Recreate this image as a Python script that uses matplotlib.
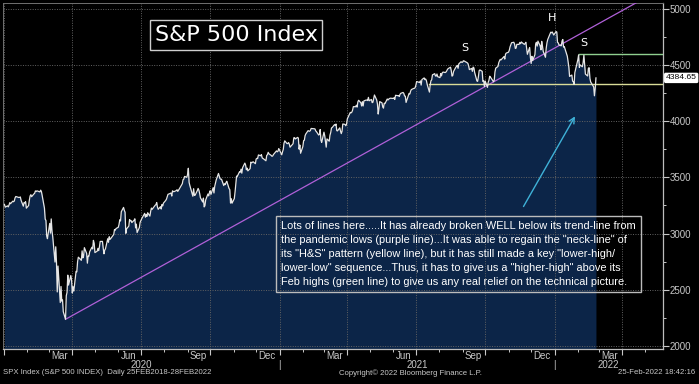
import matplotlib
matplotlib.use("Agg")
import matplotlib.pyplot as plt
import matplotlib.dates as mdates
from matplotlib import font_manager
import pandas as pd
import numpy as np

#==============================================================
#                 Data : SPX daily closes
#==============================================================
spx_2020 = [
    3257.85, 3234.85, 3246.28, 3237.18, 3253.05, 3274.70, 3265.35, 3288.13, 3283.15, 3289.29, 3316.81, 3329.62,
    3320.79, 3321.75, 3325.54, 3295.47, 3243.63, 3276.24, 3273.40, 3283.66, 3225.52,                 # Jan
    3248.92, 3297.59, 3334.69, 3345.78, 3327.71, 3352.09, 3357.75, 3379.45, 3373.94, 3380.16,
    3370.29, 3386.15, 3373.23, 3337.75, 3225.89, 3128.21, 3116.39, 2978.76, 2954.22,                 # Feb
    3090.23, 3003.37, 3130.12, 3023.94, 2972.37, 2746.56, 2882.23, 2741.38, 2480.64, 2711.02, 2386.13,
    2529.19, 2398.10, 2409.39, 2304.92, 2237.40, 2447.33, 2475.56, 2630.07, 2541.47, 2626.65, 2584.59,  # Mar
    2470.50, 2526.90, 2488.65, 2663.68, 2659.41, 2749.98, 2789.82, 2761.63, 2846.06, 2783.36, 2799.55,
    2874.56, 2823.16, 2736.56, 2799.31, 2797.80, 2836.74, 2878.48, 2863.39, 2939.51, 2912.43,         # Apr
    2830.71, 2842.74, 2868.44, 2848.42, 2881.19, 2929.80, 2930.32, 2870.12, 2820.00, 2852.50,
    2863.70, 2953.91, 2922.94, 2971.61, 2948.51, 2955.45, 2991.77, 3036.13, 3029.73, 3044.31,         # May
    3055.73, 3080.82, 3122.87, 3112.35, 3193.93, 3232.39, 3207.18, 3190.14, 3002.10, 3041.31, 3066.59,
    3124.74, 3113.49, 3115.34, 3097.74, 3117.86, 3131.29, 3050.33, 3083.76, 3009.05, 3053.24, 3100.29,  # Jun
    3115.86, 3130.01, 3179.72, 3145.32, 3169.94, 3152.05, 3185.04, 3155.22, 3197.52, 3226.56, 3215.57,
    3224.73, 3251.84, 3257.30, 3276.02, 3235.66, 3215.63, 3239.41, 3218.44, 3258.44, 3246.22, 3271.12,  # Jul
    3294.61, 3306.51, 3327.77, 3349.16, 3351.28, 3360.47, 3333.69, 3380.35, 3373.43, 3372.85, 3381.99,
    3389.78, 3374.85, 3385.51, 3397.16, 3431.28, 3443.62, 3478.73, 3484.55, 3508.01, 3500.31,         # Aug
    3526.65, 3580.84, 3455.06, 3426.96, 3331.84, 3398.96, 3339.19, 3340.97, 3383.54, 3401.20, 3385.49,
    3357.01, 3319.47, 3281.06, 3315.57, 3236.92, 3246.59, 3298.46, 3351.60, 3335.47, 3363.00,         # Sep
    3380.80, 3348.42, 3408.60, 3360.97, 3419.44, 3446.83, 3477.13, 3534.22, 3511.93, 3488.67, 3483.34,
    3483.81, 3426.92, 3443.12, 3435.56, 3453.49, 3465.39, 3400.97, 3390.68, 3271.03, 3310.11, 3269.96,  # Oct
    3310.24, 3369.16, 3443.44, 3510.45, 3509.44, 3550.50, 3545.53, 3572.66, 3537.01, 3585.15,
    3626.91, 3609.53, 3567.79, 3581.87, 3557.54, 3577.59, 3635.41, 3629.65, 3638.35, 3621.63,         # Nov
    3662.45, 3669.01, 3666.72, 3699.12, 3691.96, 3702.25, 3672.82, 3668.10, 3663.46, 3647.49, 3694.62,
    3701.17, 3722.48, 3709.41, 3694.92, 3687.26, 3690.01, 3703.06, 3735.36, 3727.04, 3732.04, 3756.07,  # Dec
]
spx_2021 = [
    3700.65, 3726.86, 3748.14, 3803.79, 3824.68, 3799.61, 3801.19, 3809.84, 3795.54, 3768.25,
    3798.91, 3851.85, 3853.07, 3841.47, 3855.36, 3849.62, 3750.77, 3787.38, 3714.24,                 # Jan
    3773.86, 3826.31, 3830.17, 3871.74, 3886.83, 3915.59, 3911.23, 3909.88, 3916.38, 3934.83,
    3932.59, 3931.33, 3913.97, 3906.71, 3876.50, 3881.37, 3925.43, 3829.34, 3811.15,                 # Feb
    3901.82, 3870.29, 3819.72, 3768.47, 3841.94, 3821.35, 3875.44, 3898.81, 3939.34, 3943.34, 3968.94, 3962.71,
    3974.12, 3915.46, 3913.10, 3940.59, 3910.52, 3889.14, 3909.52, 3974.54, 3971.09, 3958.55, 3972.89,  # Mar
    4019.87, 4077.91, 4073.94, 4079.95, 4097.17, 4128.80, 4127.99, 4141.59, 4124.66, 4170.42, 4185.47,
    4163.26, 4134.94, 4173.42, 4134.98, 4180.17, 4187.62, 4186.72, 4183.18, 4211.47, 4181.17,         # Apr
    4192.66, 4164.66, 4167.59, 4201.62, 4232.60, 4188.43, 4152.10, 4063.04, 4112.50, 4173.85,
    4163.29, 4127.83, 4115.68, 4159.12, 4155.86, 4197.05, 4188.13, 4195.99, 4200.88, 4204.11,         # May
    4202.04, 4208.12, 4192.85, 4229.89, 4226.52, 4227.26, 4219.55, 4239.18, 4247.44, 4255.15, 4246.59,
    4223.70, 4221.86, 4166.45, 4224.79, 4246.44, 4241.84, 4266.49, 4280.70, 4290.61, 4291.80, 4297.50,  # Jun
    4319.94, 4352.34, 4343.54, 4358.13, 4320.82, 4369.55, 4384.63, 4369.21, 4374.30, 4360.03, 4327.16,
    4258.49, 4323.06, 4358.69, 4367.48, 4411.79, 4422.30, 4401.46, 4400.64, 4419.15, 4395.26,         # Jul
    4387.16, 4423.15, 4402.66, 4429.10, 4436.52, 4432.35, 4436.75, 4447.70, 4460.83, 4468.00, 4479.71,
    4448.08, 4400.27, 4405.80, 4441.67, 4479.53, 4486.23, 4496.19, 4470.00, 4509.37, 4528.79, 4522.68,  # Aug
    4524.09, 4536.95, 4535.43, 4520.03, 4514.07, 4493.28, 4458.58, 4468.73, 4443.05, 4480.70, 4473.75,
    4432.99, 4357.73, 4354.19, 4395.64, 4448.98, 4455.48, 4443.11, 4352.63, 4359.46, 4307.54,         # Sep
    4357.04, 4300.46, 4345.72, 4363.55, 4399.76, 4391.34, 4361.19, 4350.65, 4363.80, 4438.26, 4471.37,
    4486.46, 4519.63, 4536.19, 4549.78, 4544.90, 4566.48, 4574.79, 4551.68, 4596.42, 4605.38,         # Oct
    4613.67, 4630.65, 4660.57, 4680.06, 4697.53, 4701.70, 4685.25, 4646.71, 4649.27, 4682.85, 4682.80,
    4700.90, 4688.67, 4704.54, 4697.96, 4682.94, 4690.70, 4701.46, 4594.62, 4655.27, 4567.00,         # Nov
    4513.04, 4577.10, 4538.43, 4591.67, 4686.75, 4701.21, 4667.45, 4712.02, 4668.97, 4634.09, 4709.85,
    4668.67, 4620.64, 4568.02, 4649.23, 4696.56, 4725.79, 4791.19, 4786.35, 4793.06, 4778.73, 4766.18,  # Dec
]
spx_2022 = [
    4796.56, 4793.54, 4700.58, 4696.05, 4677.03, 4670.29, 4713.07, 4726.35, 4659.03, 4662.85,
    4577.11, 4532.76, 4482.73, 4397.94, 4410.13, 4356.45, 4349.93, 4326.51, 4431.85, 4515.55,         # Jan
    4546.54, 4589.38, 4477.44, 4500.53, 4483.87, 4521.54, 4587.18, 4504.08, 4418.64,
    4401.67, 4471.07, 4475.01, 4380.26, 4348.87, 4304.76, 4225.50, 4288.70, 4384.65,                 # Feb
]
nyse_holidays = ["2020-01-01", "2020-01-20", "2020-02-17", "2020-04-10", "2020-05-25", "2020-07-03",
                 "2020-09-07", "2020-11-26", "2020-12-25", "2021-01-01", "2021-01-18", "2021-02-15",
                 "2021-04-02", "2021-05-31", "2021-07-05", "2021-09-06", "2021-11-25", "2021-12-24",
                 "2022-01-17", "2022-02-21"]

# drawn lines
trend_dates = ["2020-03-23", "2022-05-25"]      # purple : pandemic-low trend line
trend_vals = [2237.4, 5185.0]
neck_start, neck_level = "2021-07-19", 4330.0   # yellow : H&S neck-line
feb_start, feb_level = "2022-02-02", 4595.0     # green  : Feb highs
last_price = 4384.65

yticks = [2000, 2500, 3000, 3500, 4000, 4500, 5000]
month_labels = ["Mar", "Jun", "Sep", "Dec"]

#==============================================================
#                 Build series
#==============================================================
days = pd.bdate_range("2020-01-01", "2022-02-25")
days = days[~days.isin(pd.to_datetime(nyse_holidays))]
vals = spx_2020 + spx_2021 + spx_2022
n = min(len(days), len(vals))
days, vals = days[:n], np.array(vals[:n])

# narrow font for the footer if there is one
names = {f.name for f in font_manager.fontManager.ttflist}
if "Liberation Sans Narrow" in names:
    foot_font, foot_size = "Liberation Sans Narrow", 6.6
else:
    foot_font, foot_size = "Liberation Sans", 5.6

W, H = 699, 384
fig = plt.figure(figsize=(W / 100, H / 100), dpi=100, facecolor="black")
ax = fig.add_axes([3 / W, 35 / H, 660 / W, 346 / H], facecolor="black")

navy = "#0c2548"
grey = "#c8c8c8"
ymin, ymax = 1973, 5051
x0, x1 = pd.Timestamp("2019-12-31"), pd.Timestamp("2022-05-25")

ax.fill_between(days, vals, ymin - 50, color=navy, lw=0, zorder=1)
ax.plot(days, vals, color="#e6e6e6", lw=0.9, zorder=4)

ax.plot(pd.to_datetime(trend_dates), trend_vals, color="#b060d8", lw=0.9, zorder=3)
ax.plot([pd.Timestamp(neck_start), x1], [neck_level] * 2, color="#d9dc98", lw=1.0, zorder=3)
ax.plot([pd.Timestamp(feb_start), x1], [feb_level] * 2, color="#8fcf8f", lw=1.0, zorder=3)

ax.set_xlim(x0, x1)
ax.set_ylim(ymin, ymax)

# x axis : quarter grid, month ticks
ax.xaxis.set_major_locator(mdates.MonthLocator(bymonth=[1, 4, 7, 10]))
ax.xaxis.set_minor_locator(mdates.MonthLocator())
ax.xaxis.set_major_formatter(plt.NullFormatter())
ax.tick_params(axis="x", which="major", length=4, color=grey, width=0.8)
ax.tick_params(axis="x", which="minor", length=2.5, color=grey, width=0.7)

# y axis on the right
ax.yaxis.tick_right()
ax.set_yticks(yticks)
ax.set_yticks(np.arange(2250, 5000, 500), minor=True)
ax.tick_params(axis="y", which="major", length=4, color=grey, width=0.8,
               labelsize=7, labelcolor=grey, pad=1)
ax.tick_params(axis="y", which="minor", length=2.5, color=grey, width=0.7)
for lab in ax.get_yticklabels():
    lab.set_family("Liberation Sans")

ax.grid(True, which="major", color="#626262", ls=(0, (1, 1.5)), lw=0.7, zorder=2)

for side in ["top", "left"]:
    ax.spines[side].set_color("#707070")
    ax.spines[side].set_linewidth(0.7)
for side in ["bottom", "right"]:
    ax.spines[side].set_color("#bdbdbd")
    ax.spines[side].set_linewidth(0.9)

trans = ax.get_xaxis_transform()
for yr in [2020, 2021, 2022]:
    for m, lab in zip([3, 6, 9, 12], month_labels):
        d = pd.Timestamp(yr, m, 15)
        if x0 <= d <= x1:
            ax.text(d, -0.02, lab, transform=trans, ha="center", va="center",
                    color=grey, size=7, family="Liberation Sans")
    a = max(pd.Timestamp(yr, 1, 1), x0)
    b = min(pd.Timestamp(yr + 1, 1, 1), x1)
    ax.text(a + (b - a) / 2, -0.046, str(yr), transform=trans, ha="center", va="center",
            color=grey, size=7, family="Liberation Sans")
    if yr > 2020:
        ax.text(pd.Timestamp(yr, 1, 1), -0.046, "|", transform=trans, ha="center", va="center",
                color=grey, size=7, family="Liberation Sans")

# last price tag
ax.annotate(f"{last_price:.2f}", xy=(1, last_price), xycoords=("axes fraction", "data"),
            xytext=(2, 0), textcoords="offset points", ha="left", va="center",
            size=6.1, color="black", family="Liberation Sans",
            bbox=dict(boxstyle="round,pad=0.12", fc="white", ec="white"))

# title box
fig.text(236 / W, 1 - 35 / H, "S&P 500 Index", ha="center", va="center", color="white",
         size=16, bbox=dict(boxstyle="square,pad=0.22", fc="black", ec="#cfcfcf", lw=1))

# H&S labels
for x, y, s in [(465, 48, "S"), (552, 18, "H"), (584, 43, "S")]:
    fig.text(x / W, 1 - y / H, s, ha="center", va="center", color="white", size=8)

# comment box
note = ("Lots of lines here.....It has already broken WELL below its trend-line from\n"
        "the pandemic lows (purple line)...It was able to regain the \"neck-line\" of\n"
        "its \"H&S\" pattern (yellow line), but it has still made a key \"lower-high/\n"
        "lower-low\" sequence...Thus, it has to give us a \"higher-high\" above its\n"
        "Feb highs (green line) to give us any real relief on the technical picture.")
fig.text(281 / W, 1 - 254 / H, note, ha="left", va="center", color="white", size=7.9,
         family="Liberation Sans", linespacing=1.5, zorder=6,
         bbox=dict(boxstyle="square,pad=0.5", fc="none", ec="#bcbcbc", lw=1))

# arrow
ax.annotate("", xy=(pd.Timestamp("2022-01-30"), 4064), xytext=(pd.Timestamp("2021-11-19"), 3219),
            arrowprops=dict(arrowstyle="->", color="#3fb2d8", lw=1.0), zorder=6)

# footer
fig.text(3 / W, 1 - 373 / H, "SPX Index (S&P 500 INDEX)  Daily 25FEB2018-28FEB2022",
         ha="left", va="center", color=grey, size=foot_size, family=foot_font)
fig.text(410 / W, 1 - 373 / H, "Copyright\u00a9 2022 Bloomberg Finance L.P.",
         ha="center", va="center", color=grey, size=foot_size, family=foot_font)
fig.text(695 / W, 1 - 373 / H, "25-Feb-2022 18:42:16",
         ha="right", va="center", color=grey, size=foot_size, family=foot_font)

fig.savefig("out.png", dpi=100, facecolor="black")
